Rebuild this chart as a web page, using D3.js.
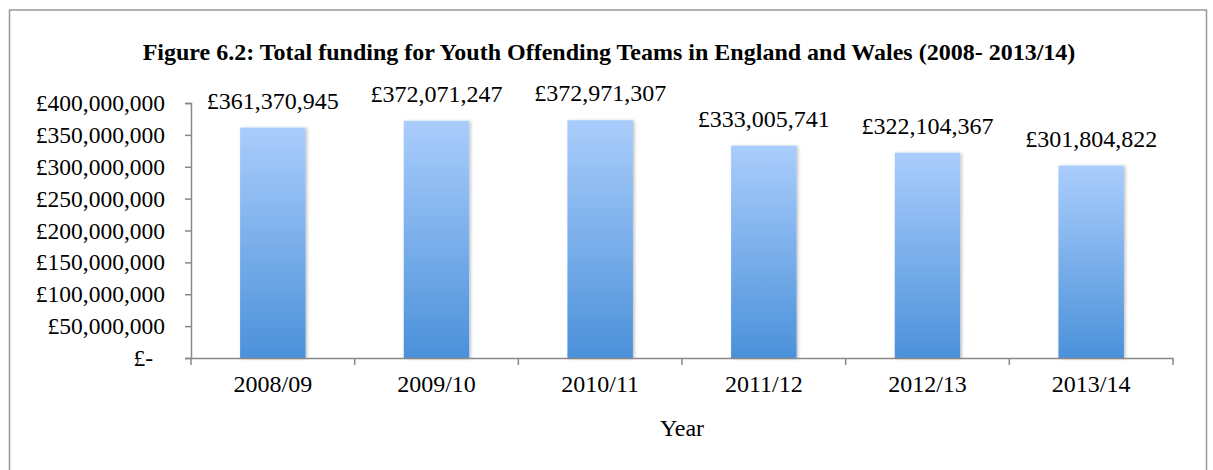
<!DOCTYPE html>
<html>
<head>
<meta charset="utf-8">
<script src="https://cdn.jsdelivr.net/npm/d3@7"></script>
<style>
  body { margin: 0; background: #fff; }
  svg text { font-family: "Liberation Serif", "Times New Roman", serif; fill: #000; }
</style>
</head>
<body>
<div id="chart"></div>
<script>
// chart data
var years   = ['2008/09', '2009/10', '2010/11', '2011/12', '2012/13', '2013/14'];
var funding = [361370945, 372071247, 372971307, 333005741, 322104367, 301804822];
var y_ticks = [0, 50000000, 100000000, 150000000, 200000000, 250000000, 300000000, 350000000, 400000000];

var title = 'Figure 6.2: Total funding for Youth Offending Teams in England and Wales (2008- 2013/14)';

var width  = 1213;
var height = 470;

var plot_left   = 191;
var plot_right  = 1173;
var plot_top    = 103;
var plot_bottom = 358;

var money = d3.format(',');
function tick_label(v) {
    return v === 0 ? '£-' : '£' + money(v);
}

var svg = d3.select('#chart')
    .append('svg')
    .attr('width', width)
    .attr('height', height);

// gradient + shadow for the bars
var defs = svg.append('defs');
var grad = defs.append('linearGradient')
    .attr('id', 'bar-grad')
    .attr('x1', 0).attr('y1', 0).attr('x2', 0).attr('y2', 1);
grad.append('stop').attr('offset', '0%').attr('stop-color', '#aacdfc');
grad.append('stop').attr('offset', '100%').attr('stop-color', '#4b91da');

var shadow = defs.append('filter')
    .attr('id', 'bar-shadow')
    .attr('x', '-20%').attr('y', '-10%').attr('width', '140%').attr('height', '120%');
shadow.append('feDropShadow')
    .attr('dx', 1.5).attr('dy', 0.5)
    .attr('stdDeviation', 1.5)
    .attr('flood-color', '#000')
    .attr('flood-opacity', 0.25);

// outer frame
svg.append('rect')
    .attr('x', 9.5).attr('y', 10)
    .attr('width', 1197).attr('height', 470)
    .attr('fill', 'none')
    .attr('stroke', '#999')
    .attr('stroke-width', 1.5);

// title
svg.append('text')
    .attr('x', 609)
    .attr('y', 60)
    .attr('text-anchor', 'middle')
    .attr('font-size', '24px')
    .attr('font-weight', 'bold')
    .text(title);

// scales
var x_scale = d3.scaleBand()
    .domain(years)
    .range([plot_left, plot_right])
    .paddingInner(0.6)
    .paddingOuter(0.3);

var x_ticks = d3.scaleBand()
    .domain(years)
    .range([plot_left, plot_right]);

var y_scale = d3.scaleLinear()
    .domain([0, 400000000])
    .range([plot_bottom, plot_top]);

// bars
svg.append('g')
    .selectAll('rect')
    .data(funding)
    .enter()
    .append('rect')
    .attr('x', function(d, i) { return x_scale(years[i]); })
    .attr('y', function(d) { return y_scale(d); })
    .attr('width', x_scale.bandwidth())
    .attr('height', function(d) { return plot_bottom - y_scale(d); })
    .attr('fill', 'url(#bar-grad)')
    .attr('filter', 'url(#bar-shadow)');

// value labels
svg.append('g')
    .selectAll('text')
    .data(funding)
    .enter()
    .append('text')
    .attr('x', function(d, i) { return x_scale(years[i]) + x_scale.bandwidth() / 2; })
    .attr('y', function(d) { return y_scale(d) - 19; })
    .attr('text-anchor', 'middle')
    .attr('font-size', '24px')
    .text(function(d) { return '£' + money(d); });

// y axis
var y_axis = d3.axisLeft(y_scale)
    .tickValues(y_ticks)
    .tickSize(6)
    .tickPadding(20)
    .tickFormat(tick_label);

var y_g = svg.append('g')
    .attr('transform', 'translate(' + plot_left + ',0)')
    .call(y_axis);
y_g.select('.domain').attr('stroke', '#888').attr('stroke-width', 1.5);
y_g.selectAll('line').attr('stroke', '#888').attr('stroke-width', 1.5);
y_g.selectAll('text')
    .attr('font-size', '23.5px')
    .attr('font-family', '"Liberation Serif", serif')
    .attr('fill', '#000');
// accounting format pads the zero label on the right
y_g.selectAll('text')
    .filter(function(d) { return d === 0; })
    .attr('dx', -12);

// x axis, ticks between categories
var x_axis = d3.axisBottom(x_ticks)
    .tickSize(0)
    .tickPadding(17);

var x_g = svg.append('g')
    .attr('transform', 'translate(0,' + plot_bottom + ')')
    .call(x_axis);
x_g.select('.domain').attr('stroke', '#888').attr('stroke-width', 1.5);
x_g.selectAll('text')
    .attr('font-size', '24px')
    .attr('font-family', '"Liberation Serif", serif')
    .attr('fill', '#000')
    .attr('dy', '0.71em');

// separator ticks at category boundaries
var bounds = years.map(function(y) { return x_ticks(y); }).concat([plot_right]);
x_g.selectAll('.sep')
    .data(bounds)
    .enter()
    .append('line')
    .attr('class', 'sep')
    .attr('x1', function(d) { return d; })
    .attr('x2', function(d) { return d; })
    .attr('y1', 0)
    .attr('y2', 7)
    .attr('stroke', '#888')
    .attr('stroke-width', 1.5);

// x axis label
svg.append('text')
    .attr('x', (plot_left + plot_right) / 2)
    .attr('y', 436)
    .attr('text-anchor', 'middle')
    .attr('font-size', '24px')
    .text('Year');
</script>
</body>
</html>
